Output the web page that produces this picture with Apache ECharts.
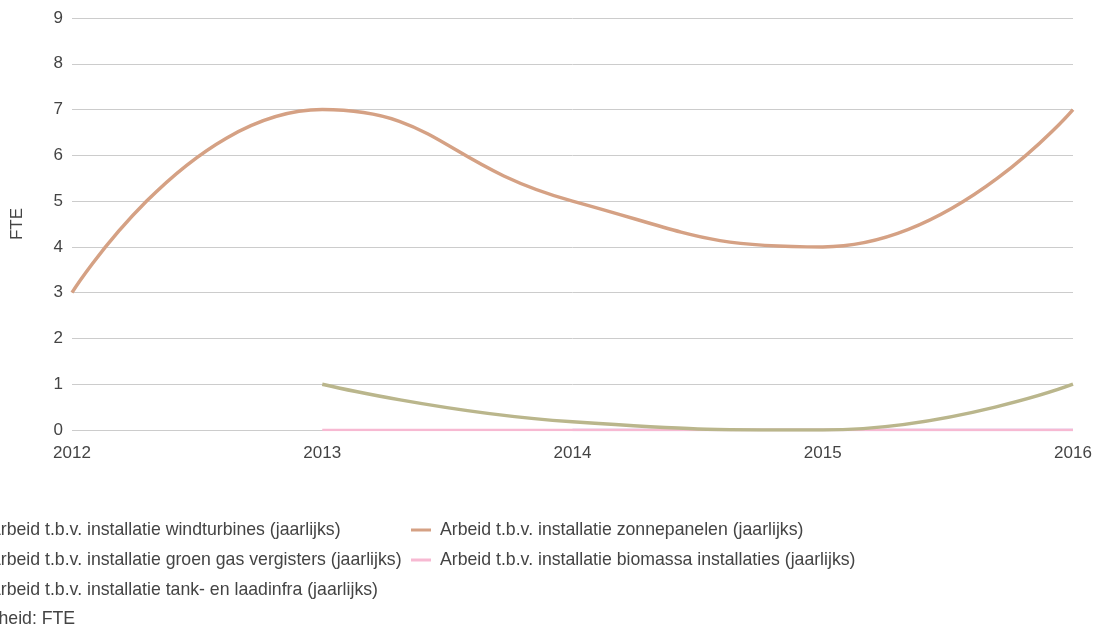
<!DOCTYPE html>
<html>
<head>
<meta charset="utf-8">
<script src="https://cdn.jsdelivr.net/npm/echarts@6/dist/echarts.min.js"></script>
<style>
  html, body { margin: 0; padding: 0; background: #fff; }
  #chart { width: 1095px; height: 625px; }
</style>
</head>
<body>
<div id="chart"></div>
<script>
// Years on the horizontal axis
const years = ['2012', '2013', '2014', '2015', '2016'];

// Annual labour (FTE) per installation type
const windturbines = [null, null, null, null, null];
const zonnepanelen = [3, 7, 5, 4, 7];
const groenGas = [null, null, 0, 0, 0];
const biomassa = [null, 0, 0, 0, 0];
const tankLaadinfra = [null, 1, 0.18, 0, 1];

const names = [
  'Arbeid t.b.v. installatie windturbines (jaarlijks)',
  'Arbeid t.b.v. installatie zonnepanelen (jaarlijks)',
  'Arbeid t.b.v. installatie groen gas vergisters (jaarlijks)',
  'Arbeid t.b.v. installatie biomassa installaties (jaarlijks)',
  'Arbeid t.b.v. installatie tank- en laadinfra (jaarlijks)'
];
const colors = ['#9fc3a8', '#d5a184', '#c0aee6', '#f7b9d2', '#bab68c'];
const values = [windturbines, zonnepanelen, groenGas, biomassa, tankLaadinfra];

const font = '"Liberation Sans", Arial, sans-serif';
const textColor = '#444';

const chart = echarts.init(document.getElementById('chart'), null, { renderer: 'canvas' });

// Legend markers are short 3px strokes, one row every 30px
const legendCommon = {
  orient: 'vertical',
  top: 521,
  padding: 0,
  icon: 'rect',
  itemWidth: 20,
  itemHeight: 3,
  itemGap: 12,
  selectedMode: false,
  textStyle: { fontFamily: font, fontSize: 17.7, color: textColor, lineHeight: 18, padding: [0, 0, 0, 4] }
};

chart.setOption({
  animation: false,
  color: colors,
  grid: { left: 72, right: 22, top: 18, bottom: 195, outerBoundsMode: 'none' },
  legend: [
    Object.assign({}, legendCommon, { left: -40, data: [names[0], names[2], names[4]] }),
    Object.assign({}, legendCommon, { left: 411, data: [names[1], names[3]] })
  ],
  graphic: [{
    type: 'text',
    left: -33,
    top: 610,
    style: { text: 'Eenheid: FTE', fontFamily: font, fontSize: 17.7, fill: textColor }
  }],
  xAxis: {
    type: 'category',
    data: years,
    boundaryGap: false,
    axisLine: { show: false },
    axisTick: { show: false },
    axisLabel: { color: textColor, fontFamily: font, fontSize: 17, margin: 15 },
    splitLine: { show: false }
  },
  yAxis: {
    type: 'value',
    min: 0,
    max: 9,
    interval: 1,
    name: 'FTE',
    nameLocation: 'middle',
    nameGap: 46,
    nameTextStyle: { color: textColor, fontFamily: font, fontSize: 17 },
    axisLine: { show: false },
    axisTick: { show: false },
    axisLabel: { color: textColor, fontFamily: font, fontSize: 17, margin: 9 },
    splitLine: { lineStyle: { color: '#cccccc', width: 1 } }
  },
  series: names.map((n, i) => ({
    name: n,
    type: 'line',
    data: values[i],
    smooth: 0.5,
    symbol: 'none',
    connectNulls: false,
    lineStyle: { width: i === 3 || i === 2 ? 2.5 : 3.5, color: colors[i] },
    itemStyle: { color: colors[i] }
  }))
});
</script>
</body>
</html>
